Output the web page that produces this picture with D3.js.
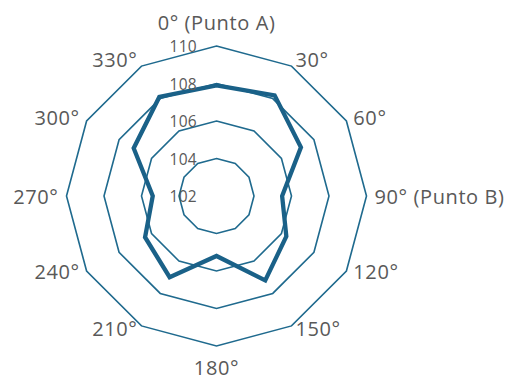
<!DOCTYPE html>
<html>
<head>
<meta charset="utf-8">
<script src="https://cdn.jsdelivr.net/npm/d3@7"></script>
<style>
  html, body { margin: 0; padding: 0; background: #ffffff; }
  svg { display: block; }
  text { font-family: "Open Sans", "Liberation Sans", sans-serif; fill: #595959; }
</style>
</head>
<body>
<svg id="chart" width="507" height="380"></svg>
<script>
// Directions around the circle and the measured value at each one
const categories = ["0° (Punto A)", "30°", "60°", "90° (Punto B)", "120°", "150°",
                    "180°", "210°", "240°", "270°", "300°", "330°"];
const values = [107.9, 108.2, 107.2, 105.5, 106.3, 107.2, 105.2, 107.0, 106.4, 105.4, 107.1, 108.1];
const ticks = [102, 104, 106, 108, 110];

const svg = d3.select("#chart");
const cx = 216.5, cy = 196, R = 150;

const r = d3.scaleLinear().domain([102, 110]).range([0, R]);
const angle = d3.scalePoint().domain(categories).range([0, 2 * Math.PI * (categories.length - 1) / categories.length]);

const g = svg.append("g").attr("transform", `translate(${cx},${cy})`);

// Polygonal grid rings
const ringLine = d3.lineRadial()
  .angle(d => angle(d))
  .curve(d3.curveLinearClosed);

g.selectAll("path.ring")
  .data(ticks.filter(t => r(t) > 0))
  .join("path")
  .attr("class", "ring")
  .attr("d", t => ringLine.radius(() => r(t))(categories))
  .attr("fill", "none")
  .attr("stroke", "#1f6a8e")
  .attr("stroke-width", 1.6);

// Data series
const seriesLine = d3.lineRadial()
  .angle((d, i) => angle(categories[i]))
  .radius(d => r(d))
  .curve(d3.curveLinearClosed);

g.append("path")
  .datum(values)
  .attr("d", seriesLine)
  .attr("fill", "none")
  .attr("stroke", "#1a6188")
  .attr("stroke-width", 4.3)
  .attr("stroke-linejoin", "miter");

// Radial tick labels
g.selectAll("text.tick")
  .data(ticks)
  .join("text")
  .attr("class", "tick")
  .attr("x", -19.5)
  .attr("y", t => -r(t))
  .attr("text-anchor", "end")
  .attr("dominant-baseline", "central")
  .attr("font-size", 15.5)
  .attr("letter-spacing", 0.3)
  .text(t => t);

// Category labels around the outside
const labelR = R + 8;
g.selectAll("text.cat")
  .data(categories)
  .join("text")
  .attr("class", "cat")
  .attr("font-size", 20)
  .attr("letter-spacing", 0.6)
  .each(function(d) {
    const a = angle(d);
    const s = Math.sin(a), c = Math.cos(a);
    let x = labelR * s, y = -labelR * c;
    let anchor = "middle";
    if (s > 0.01) anchor = "start";
    else if (s < -0.01) anchor = "end";
    if (Math.abs(s) <= 0.01) {
      y = c > 0 ? -R - 24 : R + 21;
    } else if (c < -0.01) {
      y -= 4;
    }
    d3.select(this)
      .attr("x", x)
      .attr("y", y)
      .attr("text-anchor", anchor)
      .attr("dominant-baseline", "central")
      .text(d);
  });
</script>
</body>
</html>
